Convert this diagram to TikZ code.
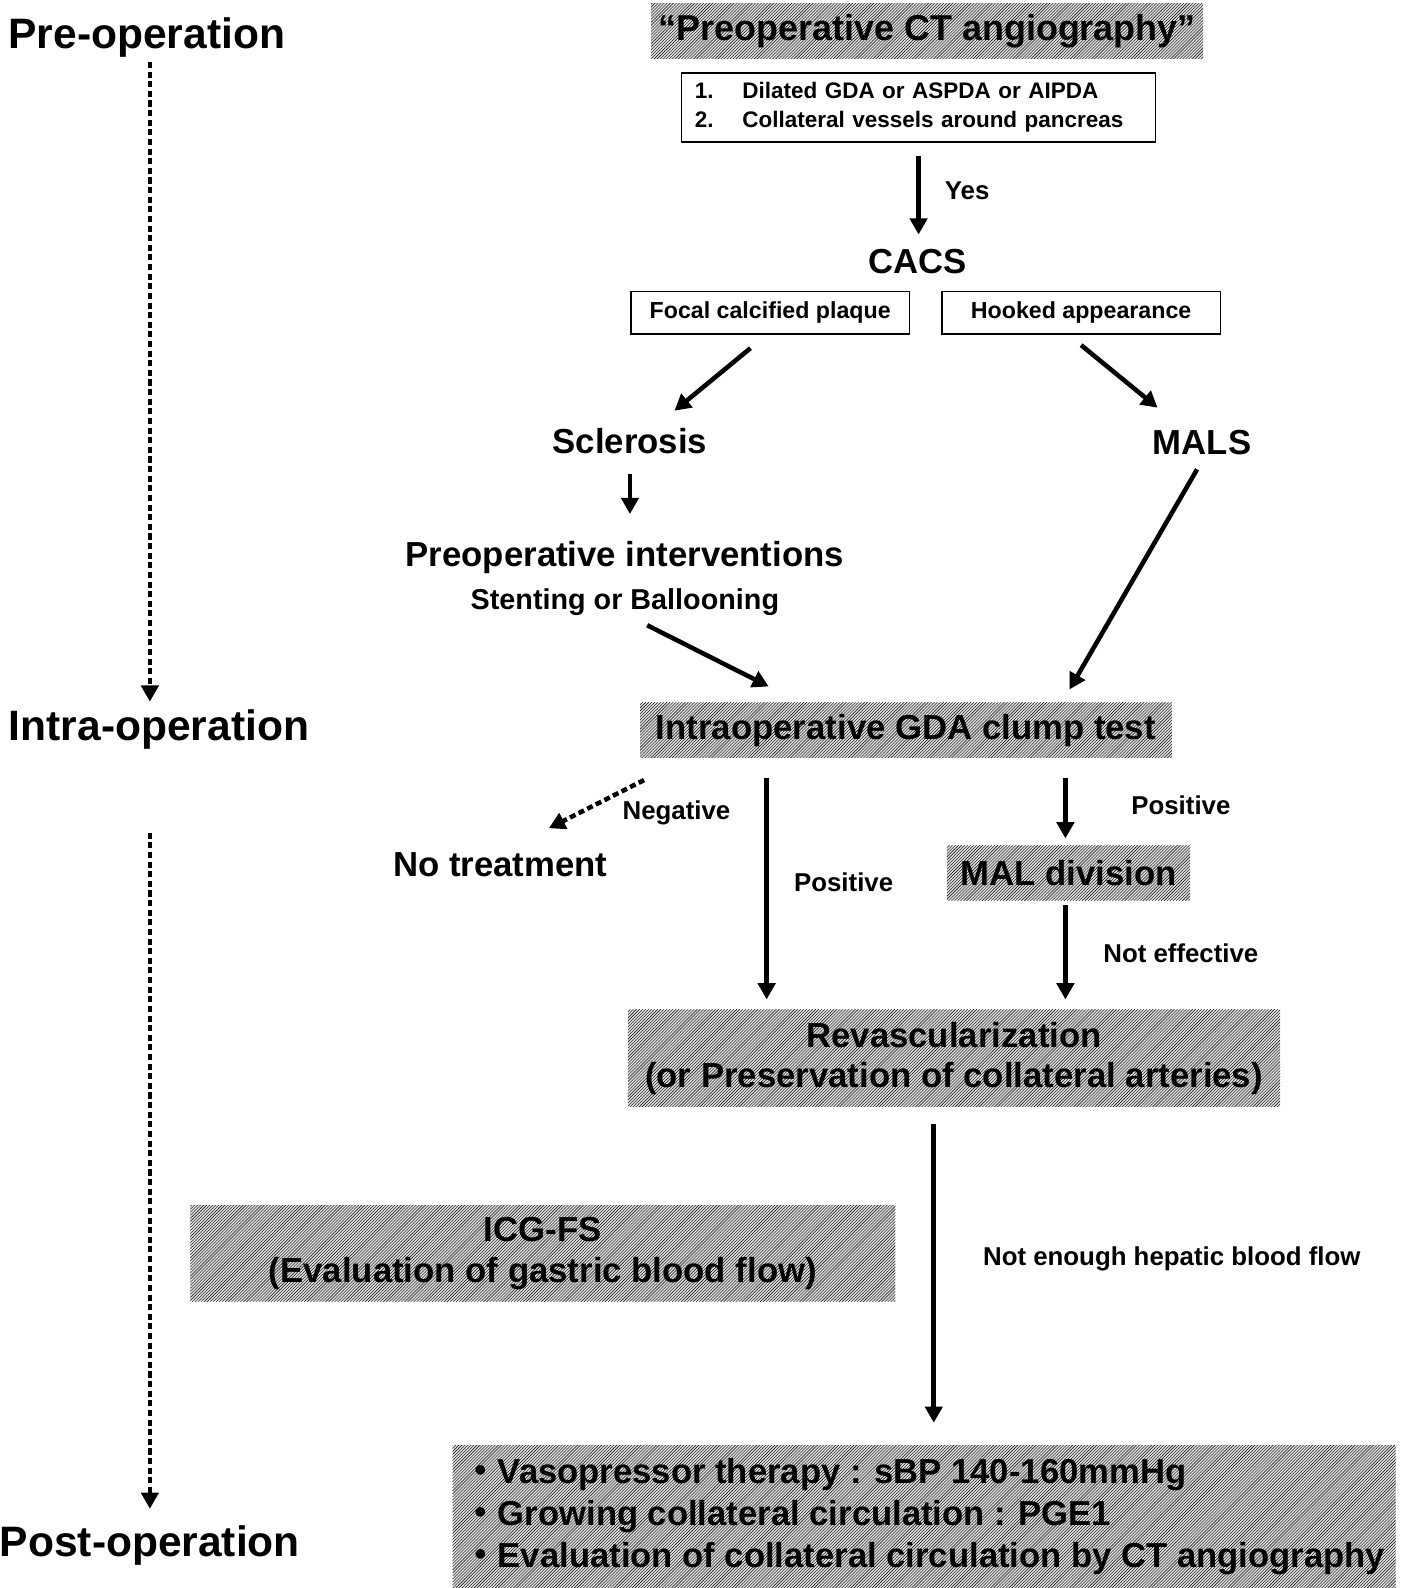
\documentclass[tikz,border=0pt]{standalone}
\usepackage{fontspec}
\setmainfont{Liberation Sans}
\newfontfamily\cjkfont{Noto Sans CJK JP}
\usetikzlibrary{positioning, calc, arrows.meta, patterns}

\begin{document}
\begin{tikzpicture}[x=1pt, y=-1pt, font=\bfseries,
        stage/.style={font=\bfseries\fontsize{42}{48}\selectfont, inner sep=0pt, text height=30pt, text depth=0pt},
        bigtext/.style={font=\bfseries\fontsize{34.3}{40}\selectfont, inner sep=0pt, text height=24.5pt, text depth=0pt},
        smalltext/.style={font=\bfseries\fontsize{25.5}{30}\selectfont, inner sep=0pt, text height=18.3pt, text depth=0pt},
        hatchbox/.style={preaction={fill=gray!25}, pattern=north east lines, pattern color=black, inner sep=0pt, align=center, font=\bfseries\fontsize{34.3}{40}\selectfont},
        framebox/.style={draw, line width=1.6pt, inner sep=0pt, font=\bfseries\fontsize{22.9}{28}\selectfont},
        arr/.style={-{Triangle[length=16pt,width=17pt]}, line width=4.5pt},
        dotarr/.style={arr, dash pattern=on 6pt off 3.5pt},
]
        \fill[white] (0,0) rectangle (1400,1568);
        \useasboundingbox (0,0) rectangle (1400,1568);

        % stages
        \node[stage] (preop) at (145,33) {Pre-operation};
        \node[stage] (intraop) at (157,716) {Intra-operation};
        \node[stage] (postop) at (148,1522) {Post-operation};

        % pre-operation
        \node[hatchbox, minimum width=545pt, minimum height=55pt, font=\bfseries\fontsize{35.5}{40}\selectfont] (cta) at (915.5,30.5) {“Preoperative CT angiography”};
        \node[framebox, text width=442pt, inner xsep=13pt, minimum height=68pt, align=left, font=\bfseries\fontsize{22.2}{28}\selectfont] (crit) at (907,106) {%
                \begin{tabular}{@{}p{47pt}@{}l@{}}
                        1. & Dilated GDA or ASPDA or AIPDA\\
                        2. & Collateral vessels around pancreas
                \end{tabular}};
        \node[smalltext] (yes) at (955,188) {Yes};
        \node[bigtext] (cacs) at (906,258) {CACS};
        \node[framebox, minimum width=275pt, minimum height=42pt] (focal) at (760.5,309) {Focal calcified plaque};
        \node[framebox, minimum width=275pt, minimum height=42pt] (hooked) at (1067.5,309) {Hooked appearance};
        \node[bigtext] (scl) at (622,436) {Sclerosis};
        \node[bigtext] (mals) at (1187,437) {MALS};
        \node[bigtext] (interv) at (617,547) {Preoperative interventions};
        \node[font=\bfseries\fontsize{28.4}{34}\selectfont, inner sep=0pt, text height=20.3pt, text depth=0pt] (stent) at (617,592) {Stenting or Ballooning};

        % intra-operation
        \node[hatchbox, minimum width=525pt, minimum height=54pt] (clamp) at (894.5,721) {Intraoperative GDA clump test};
        \node[smalltext] (neg) at (668,800) {Negative};
        \node[bigtext] (notreat) at (494,853) {No treatment};
        \node[smalltext] (pos1) at (833,871) {Positive};
        \node[smalltext] (pos2) at (1166,795) {Positive};
        \node[hatchbox, minimum width=240pt, minimum height=54pt] (maldiv) at (1055,862) {MAL division};
        \node[smalltext] (noteff) at (1166,941) {Not effective};
        \node[hatchbox, minimum width=644pt, minimum height=96pt] (revasc) at (942,1045) {Revascularization\\(or Preservation of collateral arteries)};
        \node[hatchbox, minimum width=696pt, minimum height=95pt] (icg) at (536,1237.5) {ICG-FS\\(Evaluation of gastric blood flow)};
        \node[smalltext] (notenough) at (1157,1240) {Not enough hepatic blood flow};

        % post-operation
        \node[hatchbox, minimum width=931pt, minimum height=141pt, align=left, font=\bfseries\fontsize{34.2}{41}\selectfont] (post) at (912.5,1497.5) {%
                {\cjkfont ・}Vasopressor therapy : sBP 140-160mmHg\\
                {\cjkfont ・}Growing collateral circulation : PGE1\\
                {\cjkfont ・}Evaluation of collateral circulation by CT angiography};

        % arrows
        \draw[dotarr] ($(preop.south)+(3,13)$) -- ($(intraop.north)+(-9,-8)$);
        \draw[dotarr] ($(intraop.south)+(-9,91)$) -- ($(postop.north)+(0,-17)$);
        \draw[arr, shorten <=13pt, shorten >=14pt] (crit.south) -- (crit.south |- cacs.north);
        \draw[arr] ($(focal.south)+(-19.5,13)$) -- ($(scl.north)+(44,-18)$);
        \draw[arr] ($(hooked.south)+(0,10)$) -- ($(mals.north)+(-44,-22)$);
        \draw[arr, shorten <=20pt, shorten >=27pt] (scl.south) -- (scl.south |- interv.north);
        \draw[arr] ($(stent.south)+(22,15)$) -- ($(clamp.north)+(-135.5,-16)$);
        \draw[arr] ($(mals.south)+(-5,14)$) -- ($(clamp.north)+(161.5,-13)$);
        \draw[dotarr] ($(clamp.south)+(-258.5,22)$) -- ($(notreat.north)+(48,-22.75)$);
        \draw[arr] ($(clamp.south)+(-137.5,20)$) -- ($(revasc.north)+(-185,-10)$);
        \draw[arr] ($(clamp.south)+(157.5,20)$) -- ($(maldiv.north)+(-3,-7)$);
        \draw[arr] ($(maldiv.south)+(-3,4)$) -- ($(revasc.north)+(110,-10)$);
        \draw[arr] ($(revasc.south)+(-20,17)$) -- ($(post.north)+(9.5,-22)$);
\end{tikzpicture}
\end{document}
